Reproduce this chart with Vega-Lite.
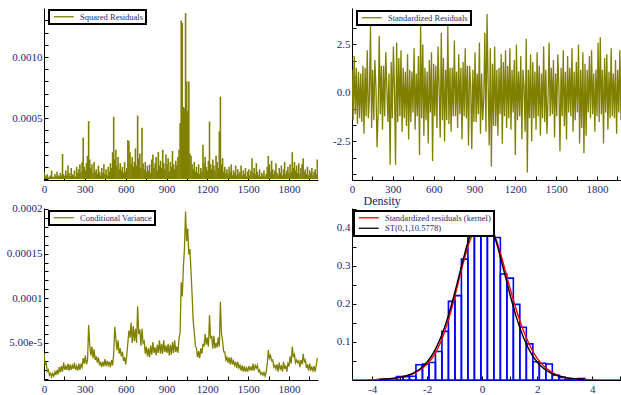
{
"$schema":"https://vega.github.io/schema/vega-lite/v6.json",
"background":"white",
"padding":{"left":6,"top":8,"right":0,"bottom":0},
"config":{
"view":{"stroke":null},
"font":"Liberation Serif",
"axis":{"grid":false,"domainColor":"#000000","domainWidth":1,"tickColor":"#000000","tickWidth":1,"tickSize":-4,"labelPadding":6,"labelFont":"Liberation Serif","labelFontSize":11,"labelColor":"#1c2a6e","labelFlush":false,"labelOverlap":false},
"axisX":{"labelPadding":7.5},
"legend":{"strokeColor":"#000000","strokeWidth":2,"fillColor":"#ffffff","padding":2.5,"labelFont":"Liberation Serif","labelFontSize":8.5,"labelColor":"#1c2a6e","symbolType":"M-1,0H9","symbolSize":16,"symbolStrokeWidth":1.3,"labelOffset":20,"rowPadding":1.5}
},
"resolve":{"scale":{"color":"independent"},"legend":{"color":"independent"}},
"datasets":{
"ts":[
{"t":0,"sq":6e-5,"z":1.2,"cv":3.9e-5},{"t":8,"sq":3e-5,"z":-1.4,"cv":2.6e-5},{"t":16,"sq":2e-5,"z":1.9,"cv":2.8e-5},{"t":24,"sq":4e-5,"z":-1.1,"cv":1.8e-5},{"t":32,"sq":1.5e-5,"z":1.3,"cv":2.0e-5},{"t":40,"sq":2e-5,"z":-1.6,"cv":1.4e-5},{"t":48,"sq":3e-5,"z":1.1,"cv":1.6e-5},{"t":56,"sq":7e-5,"z":-1.3,"cv":1.2e-5},{"t":64,"sq":2e-5,"z":1.0,"cv":1.6e-5},{"t":72,"sq":1.5e-5,"z":-1.5,"cv":1.3e-5},{"t":80,"sq":4e-5,"z":1.4,"cv":1.8e-5},{"t":88,"sq":2.5e-5,"z":-2.1,"cv":1.4e-5},
{"t":96,"sq":6e-5,"z":1.3,"cv":2.0e-5},{"t":104,"sq":3e-5,"z":-1.2,"cv":1.5e-5},{"t":112,"sq":2e-5,"z":2.2,"cv":2.3e-5},{"t":120,"sq":5e-5,"z":-1.3,"cv":1.7e-5},{"t":128,"sq":3e-5,"z":-0.2,"cv":2.4e-5},{"t":136,"sq":20.5e-5,"z":3.45,"cv":1.8e-5},{"t":144,"sq":4e-5,"z":-1.8,"cv":2.8e-5},{"t":152,"sq":2e-5,"z":1.2,"cv":2.0e-5},{"t":160,"sq":7e-5,"z":-1.4,"cv":2.4e-5},{"t":168,"sq":3e-5,"z":1.7,"cv":2.0e-5},{"t":176,"sq":11e-5,"z":0.3,"cv":2.7e-5},{"t":184,"sq":5e-5,"z":-2.8,"cv":1.9e-5},
{"t":192,"sq":2.5e-5,"z":-1.0,"cv":2.6e-5},{"t":200,"sq":9e-5,"z":2.95,"cv":2.0e-5},{"t":208,"sq":4e-5,"z":-1.1,"cv":2.5e-5},{"t":216,"sq":3e-5,"z":1.4,"cv":2.1e-5},{"t":224,"sq":7e-5,"z":-1.9,"cv":2.8e-5},{"t":232,"sq":2e-5,"z":1.4,"cv":2.0e-5},{"t":240,"sq":10e-5,"z":-1.2,"cv":2.4e-5},{"t":248,"sq":5e-5,"z":2.1,"cv":1.9e-5},{"t":256,"sq":8e-5,"z":0.3,"cv":2.7e-5},{"t":264,"sq":12e-5,"z":-1.5,"cv":2.0e-5},{"t":272,"sq":6e-5,"z":1.0,"cv":2.6e-5},{"t":280,"sq":14e-5,"z":-3.7,"cv":2.3e-5},
{"t":288,"sq":34e-5,"z":1.6,"cv":3.3e-5},{"t":296,"sq":10e-5,"z":-1.3,"cv":2.7e-5},{"t":304,"sq":7e-5,"z":2.4,"cv":3.6e-5},{"t":312,"sq":13e-5,"z":0.2,"cv":2.6e-5},{"t":320,"sq":19e-5,"z":-3.7,"cv":3.1e-5},{"t":328,"sq":47.5e-5,"z":2.6,"cv":7.0e-5},{"t":336,"sq":16e-5,"z":-1.5,"cv":4.8e-5},{"t":344,"sq":9e-5,"z":1.8,"cv":3.6e-5},{"t":352,"sq":12e-5,"z":-1.2,"cv":4.6e-5},{"t":360,"sq":5e-5,"z":2.2,"cv":3.3e-5},{"t":368,"sq":14e-5,"z":-2.0,"cv":4.3e-5},{"t":376,"sq":6e-5,"z":1.3,"cv":3.1e-5},
{"t":384,"sq":8e-5,"z":-1.3,"cv":3.5e-5},{"t":392,"sq":4e-5,"z":1.1,"cv":2.8e-5},{"t":400,"sq":11e-5,"z":-1.7,"cv":3.4e-5},{"t":408,"sq":6e-5,"z":2.0,"cv":2.5e-5},{"t":416,"sq":3e-5,"z":-2.4,"cv":2.9e-5},{"t":424,"sq":9e-5,"z":1.2,"cv":2.3e-5},{"t":432,"sq":5e-5,"z":-1.5,"cv":2.9e-5},{"t":440,"sq":12e-5,"z":1.1,"cv":2.4e-5},{"t":448,"sq":4e-5,"z":-1.0,"cv":3.2e-5},{"t":456,"sq":8e-5,"z":2.3,"cv":2.4e-5},{"t":464,"sq":3e-5,"z":-1.9,"cv":3.0e-5},{"t":472,"sq":10e-5,"z":1.0,"cv":2.5e-5},
{"t":480,"sq":6e-5,"z":-1.2,"cv":2.9e-5},{"t":488,"sq":13e-5,"z":1.9,"cv":2.3e-5},{"t":496,"sq":9e-5,"z":-3.2,"cv":3.1e-5},{"t":504,"sq":22e-5,"z":3.5,"cv":2.5e-5},{"t":512,"sq":51e-5,"z":-1.3,"cv":3.8e-5},{"t":520,"sq":16e-5,"z":2.5,"cv":6.8e-5},{"t":528,"sq":24e-5,"z":-2.2,"cv":5.5e-5},{"t":536,"sq":11e-5,"z":1.3,"cv":4.2e-5},{"t":544,"sq":18e-5,"z":-1.4,"cv":5.3e-5},{"t":552,"sq":8e-5,"z":1.1,"cv":3.8e-5},{"t":560,"sq":13e-5,"z":-2.6,"cv":4.4e-5},{"t":568,"sq":7e-5,"z":1.7,"cv":3.5e-5},
{"t":576,"sq":10e-5,"z":-1.0,"cv":4.0e-5},{"t":584,"sq":5e-5,"z":2.1,"cv":3.0e-5},{"t":592,"sq":14e-5,"z":-3.5,"cv":3.4e-5},{"t":600,"sq":6e-5,"z":1.5,"cv":2.6e-5},{"t":608,"sq":9e-5,"z":-1.2,"cv":3.6e-5},{"t":616,"sq":32e-5,"z":1.4,"cv":5.0e-5},{"t":624,"sq":31e-5,"z":-1.8,"cv":6.4e-5},{"t":632,"sq":22e-5,"z":2.4,"cv":5.6e-5},{"t":640,"sq":12e-5,"z":0.3,"cv":7.3e-5},{"t":648,"sq":18e-5,"z":-2.3,"cv":5.0e-5},{"t":656,"sq":10e-5,"z":3.1,"cv":6.9e-5},{"t":664,"sq":14e-5,"z":-1.4,"cv":5.2e-5},
{"t":672,"sq":25e-5,"z":1.8,"cv":6.6e-5},{"t":680,"sq":11e-5,"z":-2.5,"cv":5.0e-5},{"t":688,"sq":52e-5,"z":1.2,"cv":9.1e-5},{"t":696,"sq":17e-5,"z":-1.4,"cv":6.0e-5},{"t":704,"sq":21e-5,"z":3.45,"cv":6.5e-5},{"t":712,"sq":9e-5,"z":-1.6,"cv":4.7e-5},{"t":720,"sq":42e-5,"z":1.3,"cv":6.6e-5},{"t":728,"sq":13e-5,"z":-2.0,"cv":5.0e-5},{"t":736,"sq":8e-5,"z":1.3,"cv":5.2e-5},{"t":744,"sq":14e-5,"z":-1.2,"cv":3.8e-5},{"t":752,"sq":6e-5,"z":2.7,"cv":4.6e-5},{"t":760,"sq":11e-5,"z":-1.2,"cv":3.5e-5},
{"t":768,"sq":7e-5,"z":1.1,"cv":4.4e-5},{"t":776,"sq":12e-5,"z":-1.8,"cv":3.4e-5},{"t":784,"sq":5e-5,"z":2.0,"cv":4.7e-5},{"t":792,"sq":16e-5,"z":-1.1,"cv":3.7e-5},{"t":800,"sq":20e-5,"z":1.3,"cv":5.1e-5},{"t":808,"sq":9e-5,"z":-2.4,"cv":3.9e-5},{"t":816,"sq":13e-5,"z":1.6,"cv":4.5e-5},{"t":824,"sq":18e-5,"z":-1.2,"cv":3.6e-5},{"t":832,"sq":7e-5,"z":2.3,"cv":4.8e-5},{"t":840,"sq":22e-5,"z":-1.3,"cv":3.9e-5},{"t":848,"sq":11e-5,"z":1.4,"cv":5.3e-5},{"t":856,"sq":15e-5,"z":-2.7,"cv":3.8e-5},
{"t":864,"sq":9e-5,"z":1.4,"cv":4.9e-5},{"t":872,"sq":24e-5,"z":0.4,"cv":3.8e-5},{"t":880,"sq":13e-5,"z":-2.9,"cv":5.3e-5},{"t":888,"sq":8e-5,"z":1.2,"cv":4.0e-5},{"t":896,"sq":20e-5,"z":-1.5,"cv":4.7e-5},{"t":904,"sq":12e-5,"z":2.1,"cv":3.9e-5},{"t":912,"sq":17e-5,"z":-1.5,"cv":4.9e-5},{"t":920,"sq":6e-5,"z":1.0,"cv":3.6e-5},{"t":928,"sq":14e-5,"z":-1.1,"cv":4.8e-5},{"t":936,"sq":10e-5,"z":2.6,"cv":3.7e-5},{"t":944,"sq":23e-5,"z":-2.1,"cv":5.1e-5},{"t":952,"sq":12e-5,"z":1.0,"cv":3.9e-5},
{"t":960,"sq":8e-5,"z":-1.4,"cv":5.3e-5},{"t":968,"sq":15e-5,"z":-0.3,"cv":4.0e-5},{"t":976,"sq":11e-5,"z":3.1,"cv":4.6e-5},{"t":984,"sq":18e-5,"z":-2.0,"cv":3.9e-5},{"t":992,"sq":24e-5,"z":4.07,"cv":5.5e-5},{"t":1000,"sq":46e-5,"z":0.5,"cv":6.2e-5},{"t":1008,"sq":130e-5,"z":-2.7,"cv":11.8e-5},{"t":1016,"sq":128e-5,"z":2.3,"cv":10.2e-5},{"t":1024,"sq":59e-5,"z":-3.8,"cv":13.5e-5},{"t":1032,"sq":58e-5,"z":1.5,"cv":15.6e-5},{"t":1040,"sq":136e-5,"z":-1.7,"cv":19.7e-5},{"t":1048,"sq":80e-5,"z":2.4,"cv":16.4e-5},
{"t":1056,"sq":56e-5,"z":-1.7,"cv":17.8e-5},{"t":1064,"sq":80e-5,"z":1.2,"cv":14.9e-5},{"t":1072,"sq":21e-5,"z":-2.2,"cv":15.5e-5},{"t":1080,"sq":19e-5,"z":1.3,"cv":13.0e-5},{"t":1088,"sq":12e-5,"z":-1.1,"cv":10.4e-5},{"t":1096,"sq":8e-5,"z":2.0,"cv":7.5e-5},{"t":1104,"sq":14e-5,"z":-2.6,"cv":6.2e-5},{"t":1112,"sq":6e-5,"z":1.6,"cv":4.7e-5},{"t":1120,"sq":10e-5,"z":-1.2,"cv":4.4e-5},{"t":1128,"sq":5e-5,"z":2.2,"cv":3.4e-5},{"t":1136,"sq":12e-5,"z":-1.8,"cv":4.1e-5},{"t":1144,"sq":4e-5,"z":1.4,"cv":3.3e-5},
{"t":1152,"sq":9e-5,"z":-1.3,"cv":4.4e-5},{"t":1160,"sq":6e-5,"z":2.3,"cv":3.8e-5},{"t":1168,"sq":28e-5,"z":-1.9,"cv":4.9e-5},{"t":1176,"sq":13e-5,"z":1.2,"cv":4.6e-5},{"t":1184,"sq":18e-5,"z":-1.0,"cv":6.0e-5},{"t":1192,"sq":10e-5,"z":1.7,"cv":4.8e-5},{"t":1200,"sq":7e-5,"z":-3.2,"cv":5.6e-5},{"t":1208,"sq":15e-5,"z":2.5,"cv":4.6e-5},{"t":1216,"sq":47e-5,"z":-1.4,"cv":8.1e-5},{"t":1224,"sq":12e-5,"z":1.1,"cv":5.5e-5},{"t":1232,"sq":8e-5,"z":-1.2,"cv":5.8e-5},{"t":1240,"sq":16e-5,"z":1.9,"cv":4.4e-5},
{"t":1248,"sq":11e-5,"z":-2.4,"cv":5.8e-5},{"t":1256,"sq":7e-5,"z":1.2,"cv":4.4e-5},{"t":1264,"sq":19e-5,"z":0.3,"cv":5.0e-5},{"t":1272,"sq":14e-5,"z":-2.0,"cv":4.5e-5},{"t":1280,"sq":9e-5,"z":2.8,"cv":5.6e-5},{"t":1288,"sq":39e-5,"z":-4.1,"cv":4.6e-5},{"t":1296,"sq":67.5e-5,"z":1.2,"cv":9.6e-5},{"t":1304,"sq":12e-5,"z":-1.3,"cv":6.0e-5},{"t":1312,"sq":17e-5,"z":2.0,"cv":5.2e-5},{"t":1320,"sq":6e-5,"z":-2.5,"cv":4.0e-5},{"t":1328,"sq":10e-5,"z":1.6,"cv":4.0e-5},{"t":1336,"sq":5e-5,"z":-1.3,"cv":3.1e-5},
{"t":1344,"sq":8e-5,"z":1.1,"cv":3.4e-5},{"t":1352,"sq":4e-5,"z":-1.9,"cv":2.8e-5},{"t":1360,"sq":10e-5,"z":2.1,"cv":3.4e-5},{"t":1368,"sq":6e-5,"z":-1.2,"cv":2.6e-5},{"t":1376,"sq":12e-5,"z":1.4,"cv":3.4e-5},{"t":1384,"sq":3e-5,"z":-2.2,"cv":2.6e-5},{"t":1392,"sq":7e-5,"z":1.0,"cv":3.0e-5},{"t":1400,"sq":5e-5,"z":-1.3,"cv":2.5e-5},{"t":1408,"sq":11e-5,"z":2.4,"cv":2.9e-5},{"t":1416,"sq":3e-5,"z":-1.5,"cv":2.2e-5},{"t":1424,"sq":8e-5,"z":1.2,"cv":2.9e-5},{"t":1432,"sq":4e-5,"z":-2.1,"cv":2.2e-5},
{"t":1440,"sq":6e-5,"z":-0.4,"cv":2.5e-5},{"t":1448,"sq":11e-5,"z":2.6,"cv":1.9e-5},{"t":1456,"sq":3e-5,"z":-1.2,"cv":2.5e-5},{"t":1464,"sq":7e-5,"z":1.3,"cv":1.8e-5},{"t":1472,"sq":4e-5,"z":-1.1,"cv":2.4e-5},{"t":1480,"sq":9e-5,"z":1.7,"cv":1.8e-5},{"t":1488,"sq":2e-5,"z":-2.3,"cv":2.2e-5},{"t":1496,"sq":6e-5,"z":1.0,"cv":1.8e-5},{"t":1504,"sq":8e-5,"z":-1.2,"cv":2.4e-5},{"t":1512,"sq":3e-5,"z":2.0,"cv":2.0e-5},{"t":1520,"sq":7e-5,"z":0.3,"cv":2.3e-5},{"t":1528,"sq":17e-5,"z":-3.0,"cv":1.9e-5},
{"t":1536,"sq":5e-5,"z":1.3,"cv":2.7e-5},{"t":1544,"sq":9e-5,"z":-1.2,"cv":1.9e-5},{"t":1552,"sq":4e-5,"z":2.2,"cv":2.5e-5},{"t":1560,"sq":13e-5,"z":-1.7,"cv":2.2e-5},{"t":1568,"sq":6e-5,"z":1.1,"cv":2.5e-5},{"t":1576,"sq":3e-5,"z":-2.4,"cv":1.8e-5},{"t":1584,"sq":8e-5,"z":1.9,"cv":2.0e-5},{"t":1592,"sq":2e-5,"z":-1.0,"cv":1.5e-5},{"t":1600,"sq":5e-5,"z":1.3,"cv":1.7e-5},{"t":1608,"sq":3e-5,"z":-1.2,"cv":1.4e-5},{"t":1616,"sq":7e-5,"z":2.3,"cv":1.7e-5},{"t":1624,"sq":2e-5,"z":-2.0,"cv":1.3e-5},
{"t":1632,"sq":4e-5,"z":1.1,"cv":1.7e-5},{"t":1640,"sq":10e-5,"z":-1.4,"cv":2.6e-5},{"t":1648,"sq":19e-5,"z":1.6,"cv":4.2e-5},{"t":1656,"sq":12e-5,"z":-1.0,"cv":3.3e-5},{"t":1664,"sq":6e-5,"z":2.5,"cv":3.6e-5},{"t":1672,"sq":15e-5,"z":-2.6,"cv":3.0e-5},{"t":1680,"sq":8e-5,"z":1.2,"cv":3.1e-5},{"t":1688,"sq":4e-5,"z":-1.8,"cv":2.3e-5},{"t":1696,"sq":7e-5,"z":2.1,"cv":2.5e-5},{"t":1704,"sq":13e-5,"z":-3.1,"cv":2.1e-5},{"t":1712,"sq":5e-5,"z":1.5,"cv":2.6e-5},{"t":1720,"sq":3e-5,"z":-2.2,"cv":1.8e-5},
{"t":1728,"sq":9e-5,"z":1.2,"cv":2.8e-5},{"t":1736,"sq":5e-5,"z":-1.0,"cv":2.1e-5},{"t":1744,"sq":11e-5,"z":1.9,"cv":2.4e-5},{"t":1752,"sq":3e-5,"z":-1.3,"cv":1.8e-5},{"t":1760,"sq":8e-5,"z":2.2,"cv":2.9e-5},{"t":1768,"sq":14e-5,"z":-1.1,"cv":2.1e-5},{"t":1776,"sq":4e-5,"z":1.0,"cv":2.5e-5},{"t":1784,"sq":7e-5,"z":-2.0,"cv":1.8e-5},{"t":1792,"sq":10e-5,"z":1.2,"cv":2.7e-5},{"t":1800,"sq":5e-5,"z":-1.2,"cv":2.4e-5},{"t":1808,"sq":12e-5,"z":2.6,"cv":3.5e-5},{"t":1816,"sq":6e-5,"z":-1.5,"cv":2.7e-5},
{"t":1824,"sq":22e-5,"z":2.87,"cv":4.6e-5},{"t":1832,"sq":9e-5,"z":-1.1,"cv":3.4e-5},{"t":1840,"sq":14e-5,"z":1.2,"cv":3.7e-5},{"t":1848,"sq":7e-5,"z":-2.6,"cv":2.8e-5},{"t":1856,"sq":11e-5,"z":1.8,"cv":3.1e-5},{"t":1864,"sq":5e-5,"z":-1.0,"cv":2.8e-5},{"t":1872,"sq":13e-5,"z":2.0,"cv":3.0e-5},{"t":1880,"sq":4e-5,"z":-1.9,"cv":2.3e-5},{"t":1888,"sq":9e-5,"z":1.1,"cv":3.1e-5},{"t":1896,"sq":12e-5,"z":-1.3,"cv":2.6e-5},{"t":1904,"sq":17e-5,"z":2.3,"cv":3.8e-5},{"t":1912,"sq":6e-5,"z":-1.2,"cv":2.9e-5},
{"t":1920,"sq":8e-5,"z":1.0,"cv":3.1e-5},{"t":1928,"sq":4e-5,"z":-1.3,"cv":2.2e-5},{"t":1936,"sq":10e-5,"z":1.7,"cv":2.6e-5},{"t":1944,"sq":3e-5,"z":-2.1,"cv":1.9e-5},{"t":1952,"sq":7e-5,"z":1.2,"cv":2.7e-5},{"t":1960,"sq":5e-5,"z":-1.0,"cv":2.0e-5},{"t":1968,"sq":9e-5,"z":2.2,"cv":2.3e-5},{"t":1976,"sq":3e-5,"z":-1.4,"cv":1.9e-5},{"t":1984,"sq":6e-5,"z":1.3,"cv":2.4e-5},{"t":1992,"sq":8e-5,"z":-2.5,"cv":1.8e-5},{"t":2000,"sq":4e-5,"z":1.6,"cv":2.5e-5},{"t":2008,"sq":16e-5,"z":-0.9,"cv":3.3e-5}
],
"hist":[
{"x":-3.821,"x2":-3.585,"y":0.001},{"x":-3.585,"x2":-3.349,"y":0.002},{"x":-3.349,"x2":-3.113,"y":0},{"x":-3.113,"x2":-2.877,"y":0.009},{"x":-2.877,"x2":-2.641,"y":0.009},{"x":-2.641,"x2":-2.405,"y":0.010},{"x":-2.405,"x2":-2.169,"y":0.040},{"x":-2.169,"x2":-1.933,"y":0.042},{"x":-1.933,"x2":-1.697,"y":0.046},{"x":-1.697,"x2":-1.461,"y":0.075},{"x":-1.461,"x2":-1.225,"y":0.128},{"x":-1.225,"x2":-0.989,"y":0.207},{"x":-0.989,"x2":-0.753,"y":0.222},{"x":-0.753,"x2":-0.517,"y":0.318},{"x":-0.517,"x2":-0.281,"y":0.427},{"x":-0.281,"x2":-0.045,"y":0.388},{"x":-0.045,"x2":0.191,"y":0.425},{"x":0.191,"x2":0.427,"y":0.428},{"x":0.427,"x2":0.663,"y":0.375},{"x":0.663,"x2":0.899,"y":0.279},{"x":0.899,"x2":1.135,"y":0.268},{"x":1.135,"x2":1.371,"y":0.199},{"x":1.371,"x2":1.607,"y":0.139},{"x":1.607,"x2":1.843,"y":0.095},{"x":1.843,"x2":2.079,"y":0.048},{"x":2.079,"x2":2.315,"y":0.044},{"x":2.315,"x2":2.551,"y":0.042},{"x":2.551,"x2":2.787,"y":0.013},{"x":2.787,"x2":3.023,"y":0.007},{"x":3.023,"x2":3.259,"y":0.002},{"x":3.259,"x2":3.495,"y":0.001},{"x":3.495,"x2":3.731,"y":0.004}
],
"dens":[
{"x":-4.73,"y":0,"s":"Standardized residuals (kernel)"},{"x":-4.25,"y":0.0003,"s":"Standardized residuals (kernel)"},{"x":-4,"y":0.0008,"s":"Standardized residuals (kernel)"},{"x":-3.75,"y":0.0015,"s":"Standardized residuals (kernel)"},{"x":-3.5,"y":0.0025,"s":"Standardized residuals (kernel)"},{"x":-3.25,"y":0.004,"s":"Standardized residuals (kernel)"},{"x":-3,"y":0.0065,"s":"Standardized residuals (kernel)"},{"x":-2.75,"y":0.011,"s":"Standardized residuals (kernel)"},{"x":-2.5,"y":0.017,"s":"Standardized residuals (kernel)"},{"x":-2.25,"y":0.027,"s":"Standardized residuals (kernel)"},{"x":-2,"y":0.042,"s":"Standardized residuals (kernel)"},{"x":-1.75,"y":0.065,"s":"Standardized residuals (kernel)"},{"x":-1.5,"y":0.101,"s":"Standardized residuals (kernel)"},{"x":-1.25,"y":0.152,"s":"Standardized residuals (kernel)"},{"x":-1,"y":0.218,"s":"Standardized residuals (kernel)"},{"x":-0.75,"y":0.29,"s":"Standardized residuals (kernel)"},{"x":-0.5,"y":0.355,"s":"Standardized residuals (kernel)"},{"x":-0.25,"y":0.398,"s":"Standardized residuals (kernel)"},{"x":0,"y":0.414,"s":"Standardized residuals (kernel)"},{"x":0.125,"y":0.418,"s":"Standardized residuals (kernel)"},{"x":0.25,"y":0.412,"s":"Standardized residuals (kernel)"},{"x":0.5,"y":0.372,"s":"Standardized residuals (kernel)"},{"x":0.75,"y":0.312,"s":"Standardized residuals (kernel)"},{"x":1,"y":0.245,"s":"Standardized residuals (kernel)"},{"x":1.25,"y":0.183,"s":"Standardized residuals (kernel)"},{"x":1.5,"y":0.13,"s":"Standardized residuals (kernel)"},{"x":1.75,"y":0.088,"s":"Standardized residuals (kernel)"},{"x":2,"y":0.057,"s":"Standardized residuals (kernel)"},{"x":2.25,"y":0.036,"s":"Standardized residuals (kernel)"},{"x":2.5,"y":0.022,"s":"Standardized residuals (kernel)"},{"x":2.75,"y":0.012,"s":"Standardized residuals (kernel)"},{"x":3,"y":0.0065,"s":"Standardized residuals (kernel)"},{"x":3.25,"y":0.0035,"s":"Standardized residuals (kernel)"},{"x":3.5,"y":0.002,"s":"Standardized residuals (kernel)"},{"x":3.75,"y":0.0012,"s":"Standardized residuals (kernel)"},{"x":4,"y":0.0006,"s":"Standardized residuals (kernel)"},{"x":4.5,"y":0.0001,"s":"Standardized residuals (kernel)"},{"x":5.23,"y":0,"s":"Standardized residuals (kernel)"},
{"x":-3.75,"y":0.0016,"s":"ST(0,1,10.5778)"},{"x":-3.5,"y":0.0025,"s":"ST(0,1,10.5778)"},{"x":-3.25,"y":0.0042,"s":"ST(0,1,10.5778)"},{"x":-3,"y":0.0068,"s":"ST(0,1,10.5778)"},{"x":-2.75,"y":0.0111,"s":"ST(0,1,10.5778)"},{"x":-2.5,"y":0.0182,"s":"ST(0,1,10.5778)"},{"x":-2.25,"y":0.0295,"s":"ST(0,1,10.5778)"},{"x":-2,"y":0.0472,"s":"ST(0,1,10.5778)"},{"x":-1.75,"y":0.0739,"s":"ST(0,1,10.5778)"},{"x":-1.5,"y":0.1123,"s":"ST(0,1,10.5778)"},{"x":-1.25,"y":0.1641,"s":"ST(0,1,10.5778)"},{"x":-1,"y":0.2284,"s":"ST(0,1,10.5778)"},{"x":-0.75,"y":0.2993,"s":"ST(0,1,10.5778)"},{"x":-0.5,"y":0.3662,"s":"ST(0,1,10.5778)"},{"x":-0.25,"y":0.4146,"s":"ST(0,1,10.5778)"},{"x":-0.125,"y":0.4279,"s":"ST(0,1,10.5778)"},{"x":0,"y":0.4324,"s":"ST(0,1,10.5778)"},{"x":0.125,"y":0.4279,"s":"ST(0,1,10.5778)"},{"x":0.25,"y":0.4146,"s":"ST(0,1,10.5778)"},{"x":0.5,"y":0.3662,"s":"ST(0,1,10.5778)"},{"x":0.75,"y":0.2993,"s":"ST(0,1,10.5778)"},{"x":1,"y":0.2284,"s":"ST(0,1,10.5778)"},{"x":1.25,"y":0.1641,"s":"ST(0,1,10.5778)"},{"x":1.5,"y":0.1123,"s":"ST(0,1,10.5778)"},{"x":1.75,"y":0.0739,"s":"ST(0,1,10.5778)"},{"x":2,"y":0.0472,"s":"ST(0,1,10.5778)"},{"x":2.25,"y":0.0295,"s":"ST(0,1,10.5778)"},{"x":2.5,"y":0.0182,"s":"ST(0,1,10.5778)"},{"x":2.75,"y":0.0111,"s":"ST(0,1,10.5778)"},{"x":3,"y":0.0068,"s":"ST(0,1,10.5778)"},{"x":3.25,"y":0.0042,"s":"ST(0,1,10.5778)"},{"x":3.5,"y":0.0025,"s":"ST(0,1,10.5778)"},{"x":3.75,"y":0.0016,"s":"ST(0,1,10.5778)"}
]
},
"columns":2,
"bounds":"flush",
"spacing":{"row":28,"column":34},
"concat":[
{
"width":274,"height":172,
"data":{"name":"ts"},
"mark":{"type":"rule","strokeWidth":1.6,"clip":true},
"encoding":{
"x":{"field":"t","type":"quantitative","scale":{"domain":[0,2013],"nice":false,"zero":false},"axis":{"title":null,"values":[0,150,300,450,600,750,900,1050,1200,1350,1500,1650,1800,1950],"labelExpr":"datum.value % 300 == 0 ? '' + datum.value : ''"}},
"y":{"field":"sq","type":"quantitative","scale":{"domain":[-0.0000082,0.001402],"nice":false,"zero":false},"axis":{"title":null,"values":[0,0.0001,0.0002,0.0003,0.0004,0.0005,0.0006,0.0007,0.0008,0.0009,0.001,0.0011,0.0012,0.0013],"labelExpr":"abs(datum.value-0.0005)<1e-9 ? '0.0005' : abs(datum.value-0.001)<1e-9 ? '0.0010' : ''"}},
"y2":{"datum":0},
"color":{"datum":"Squared Residuals","type":"nominal","scale":{"range":["#808000"]},"legend":{"title":null,"orient":"none","legendX":5,"legendY":2,"direction":"vertical"}}
}
},
{
"width":274,"height":172,
"data":{"name":"ts"},
"mark":{"type":"line","strokeWidth":1.3,"clip":true},
"encoding":{
"x":{"field":"t","type":"quantitative","scale":{"domain":[0,2013],"nice":false,"zero":false},"axis":{"title":null,"values":[0,150,300,450,600,750,900,1050,1200,1350,1500,1650,1800,1950],"labelExpr":"datum.value % 300 == 0 ? '' + datum.value : ''"}},
"y":{"field":"z","type":"quantitative","scale":{"domain":[-4.485,4.38],"nice":false,"zero":false},"axis":{"title":null,"values":[-4.1667,-3.3333,-2.5,-1.6667,-0.8333,0,0.8333,1.6667,2.5,3.3333],"labelExpr":"datum.value == 2.5 ? '2.5' : datum.value == 0 ? '0.0' : datum.value == -2.5 ? '-2.5' : ''"}},
"color":{"datum":"Standardized Residuals","type":"nominal","scale":{"range":["#808000"]},"legend":{"title":null,"orient":"none","legendX":5,"legendY":3,"direction":"vertical"}}
}
},
{
"width":274,"height":172,
"data":{"name":"ts"},
"mark":{"type":"line","strokeWidth":1.3,"clip":true},
"encoding":{
"x":{"field":"t","type":"quantitative","scale":{"domain":[0,2013],"nice":false,"zero":false},"axis":{"title":null,"values":[0,150,300,450,600,750,900,1050,1200,1350,1500,1650,1800,1950],"labelExpr":"datum.value % 300 == 0 ? '' + datum.value : ''"}},
"y":{"field":"cv","type":"quantitative","scale":{"domain":[0.0000086,0.000201],"nice":false,"zero":false},"axis":{"title":null,"values":[0.00001,0.00002,0.00003,0.00004,0.00005,0.00006,0.00007,0.00008,0.00009,0.0001,0.00011,0.00012,0.00013,0.00014,0.00015,0.00016,0.00017,0.00018,0.00019,0.0002],"labelExpr":"abs(datum.value-0.00005)<1e-10 ? '5.00e-5' : abs(datum.value-0.0001)<1e-10 ? '0.0001' : abs(datum.value-0.00015)<1e-10 ? '0.00015' : abs(datum.value-0.0002)<1e-10 ? '0.0002' : ''"}},
"color":{"datum":"Conditional Variance","type":"nominal","scale":{"range":["#808000"]},"legend":{"title":null,"orient":"none","legendX":5,"legendY":3,"direction":"vertical"}}
}
},
{
"width":274,"height":172,
"encoding":{
"x":{"field":"x","type":"quantitative","scale":{"domain":[-4.73,5.23],"nice":false,"zero":false},"axis":{"title":null,"values":[-4,-3,-2,-1,0,1,2,3,4,5],"labelExpr":"datum.value % 2 == 0 ? '' + datum.value : ''"}},
"y":{"field":"y","type":"quantitative","scale":{"domain":[0,0.4526],"nice":false,"zero":false},"axis":{"title":"Density","titleAngle":0,"titleX":11,"titleY":-4,"titleAlign":"left","titleBaseline":"alphabetic","titleFont":"Liberation Serif","titleFontSize":12,"titleFontWeight":"normal","titleColor":"#141e55","values":[0.05,0.1,0.15,0.2,0.25,0.3,0.35,0.4,0.45],"labelExpr":"abs(datum.value*10-round(datum.value*10))<1e-6 ? format(datum.value,'.1f') : ''"}}
},
"layer":[
{"data":{"name":"hist"},"mark":{"type":"rect","fill":"transparent","stroke":"#0000ff","strokeWidth":1.6},"encoding":{"x2":{"field":"x2"},"y2":{"datum":0}}},
{"data":{"name":"dens"},"mark":{"type":"line","strokeWidth":1.4,"interpolate":"monotone","clip":true},"encoding":{"color":{"field":"s","type":"nominal","scale":{"domain":["Standardized residuals (kernel)","ST(0,1,10.5778)"],"range":["#ff0000","#000000"]},"legend":{"title":null,"orient":"none","legendX":2,"legendY":3,"direction":"vertical"}}}}
]
}
]
}
